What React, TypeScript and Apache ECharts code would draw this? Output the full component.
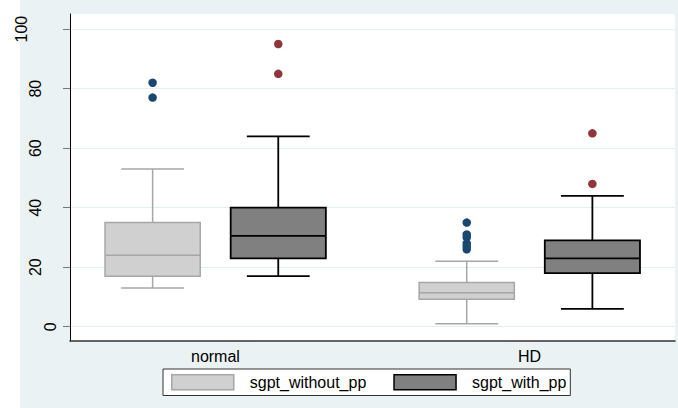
import React, { useEffect, useRef } from "react";
import * as echarts from "echarts";

const categories = ["normal", "HD"];
const seriesNames = ["sgpt_without_pp", "sgpt_with_pp"];
// [min, Q1, median, Q3, max] per category
const withoutStats = [
  [13, 17, 24, 35, 53],
  [1, 9.2, 11.4, 14.9, 22],
];
const withStats = [
  [17, 23, 30.5, 40, 64],
  [6, 18, 23, 29, 44],
];
// [categoryIndex, value]
const withoutOutliers = [
  [0, 77], [0, 82],
  [1, 26], [1, 27], [1, 28], [1, 30], [1, 31], [1, 35],
];
const withOutliers = [
  [0, 85], [0, 95],
  [1, 48], [1, 65],
];
const yTicks = [0, 20, 40, 60, 80, 100];

const OFFSET = 0.2;
const BOX_HALF = 0.1515;
const CAP_HALF = 0.1;
const FONT = "'Liberation Sans', Arial, Helvetica, sans-serif";

function makeRenderItem(offset: number, fill: string, stroke: string, lw: number) {
  return (params: any, api: any) => {
    const x = api.value(0) + 1 + offset;
    const mn = api.value(1), q1 = api.value(2), md = api.value(3), q3 = api.value(4), mx = api.value(5);
    const cx = api.coord([x, md])[0];
    const y = (v: number) => api.coord([x, v])[1];
    const hw = api.size([BOX_HALF, 0])[0];
    const cw = api.size([CAP_HALF, 0])[0];
    const ls = { stroke, lineWidth: lw };
    return {
      type: "group",
      children: [
        { type: "line", shape: { x1: cx, y1: y(mn), x2: cx, y2: y(q1) }, style: ls },
        { type: "line", shape: { x1: cx, y1: y(q3), x2: cx, y2: y(mx) }, style: ls },
        { type: "line", shape: { x1: cx - cw, y1: y(mn), x2: cx + cw, y2: y(mn) }, style: ls },
        { type: "line", shape: { x1: cx - cw, y1: y(mx), x2: cx + cw, y2: y(mx) }, style: ls },
        {
          type: "rect",
          shape: { x: cx - hw, y: y(q3), width: 2 * hw, height: y(q1) - y(q3) },
          style: { fill, stroke, lineWidth: lw },
        },
        { type: "line", shape: { x1: cx - hw, y1: y(md), x2: cx + hw, y2: y(md) }, style: ls },
      ],
    };
  };
}

export default function App() {
  const ref = useRef<HTMLDivElement>(null);
  useEffect(() => {
    if (!ref.current) return;
    const chart = echarts.init(ref.current, null, { renderer: "svg" });
    const option: any = {
      animation: false,
      backgroundColor: "transparent",
      textStyle: { fontFamily: FONT },
      grid: {
        left: 70,
        right: 3,
        top: 14,
        bottom: 67,
        show: true,
        backgroundColor: "#ffffff",
        borderWidth: 0,
        outerBoundsMode: "none",
        containLabel: false,
      },
      xAxis: {
        type: "value",
        min: 0.537,
        max: 2.463,
        axisLine: { show: true, onZero: false, lineStyle: { color: "#333333", width: 1.5 } },
        axisTick: { show: false },
        splitLine: { show: false },
        axisLabel: {
          customValues: [1, 2],
          formatter: (v: number) => categories[Math.round(v) - 1] ?? "",
          color: "#000",
          fontSize: 16,
          fontFamily: FONT,
          margin: 7,
        },
      },
      yAxis: {
        type: "value",
        min: -4.8,
        max: 105.1,
        axisLine: { show: true, onZero: false, lineStyle: { color: "#000000", width: 1 } },
        axisTick: { show: true, customValues: yTicks, length: 7, lineStyle: { color: "#777777", width: 1 } },
        splitLine: { show: true, lineStyle: { color: "#e6eff0", width: 1 } },
        axisLabel: {
          customValues: yTicks,
          rotate: 90,
          margin: 12,
          color: "#000",
          fontSize: 16,
          fontFamily: FONT,
          formatter: (v: number) => {
            const s = String(v);
            return `{l${s.length}|${s}}`;
          },
          rich: {
            l1: { fontSize: 16, fontFamily: FONT, color: "#000", padding: [0, 0, 0, 0] },
            l2: { fontSize: 16, fontFamily: FONT, color: "#000", padding: [0, 0, 15, 0] },
            l3: { fontSize: 16, fontFamily: FONT, color: "#000", padding: [0, 0, 29, 0] },
          },
        },
      },
      legend: {
        show: true,
        left: 163,
        top: 369,
        orient: "horizontal",
        backgroundColor: "#ffffff",
        borderColor: "#333333",
        borderWidth: 1,
        borderRadius: 0,
        padding: [5, 4, 5, 8],
        itemWidth: 62,
        itemHeight: 15,
        itemGap: 27,
        selectedMode: false,
        textStyle: { fontSize: 16, color: "#000", fontFamily: FONT, padding: [0, 0, 0, 11] },
        data: [
          { name: seriesNames[0], icon: "rect", itemStyle: { color: "#d0d0d0", borderColor: "#a6a6a6", borderWidth: 1.5 } },
          { name: seriesNames[1], icon: "rect", itemStyle: { color: "#808080", borderColor: "#000000", borderWidth: 1.5 } },
        ],
      },
      series: [
        {
          name: seriesNames[0],
          type: "custom",
          renderItem: makeRenderItem(-OFFSET, "#d0d0d0", "#a6a6a6", 1.5),
          itemStyle: { color: "#d0d0d0" },
          data: withoutStats.map((s, i) => [i, ...s]),
          encode: { x: 0, y: [1, 2, 3, 4, 5] },
          z: 2,
        },
        {
          name: seriesNames[1],
          type: "custom",
          renderItem: makeRenderItem(OFFSET, "#808080", "#000000", 1.8),
          itemStyle: { color: "#808080" },
          data: withStats.map((s, i) => [i, ...s]),
          encode: { x: 0, y: [1, 2, 3, 4, 5] },
          z: 2,
        },
        {
          name: "without_outliers",
          type: "scatter",
          symbol: "circle",
          symbolSize: 8.5,
          itemStyle: { color: "#1a476f", opacity: 1 },
          data: withoutOutliers.map(([c, v]) => [c + 1 - OFFSET, v]),
          z: 3,
        },
        {
          name: "with_outliers",
          type: "scatter",
          symbol: "circle",
          symbolSize: 8.5,
          itemStyle: { color: "#90353b", opacity: 1 },
          data: withOutliers.map(([c, v]) => [c + 1 + OFFSET, v]),
          z: 3,
        },
      ],
    };
    chart.setOption(option);
    return () => chart.dispose();
  }, []);
  return (
    <div
      ref={ref}
      style={{
        position: "fixed",
        left: 0,
        top: 0,
        width: 678,
        height: 408,
        background: "linear-gradient(to right, #ffffff 0px, #ffffff 20px, #eaf2f3 20px, #eaf2f3 100%)",
      }}
    />
  );
}
